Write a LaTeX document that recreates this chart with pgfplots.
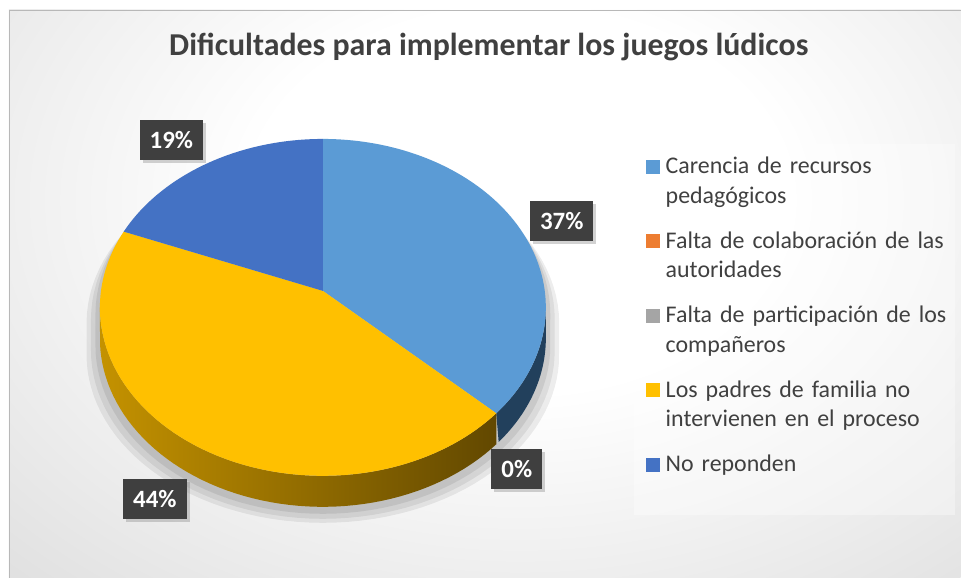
\documentclass[border=0pt]{standalone}
\usepackage{pgfplots}
\pgfplotsset{compat=1.18}
\usepackage{fontspec}
\setmainfont{Carlito}
\usetikzlibrary{shadows}

\definecolor{cBlue}{HTML}{5B9BD5}
\definecolor{cOrange}{HTML}{ED7D31}
\definecolor{cGray}{HTML}{A5A5A5}
\definecolor{cYellow}{HTML}{FFC000}
\definecolor{cDark}{HTML}{4472C4}
\definecolor{cBlueSide}{HTML}{22405C}
\definecolor{cYelL}{HTML}{C49200}
\definecolor{cYelM}{HTML}{6E5200}
\definecolor{cYelR}{HTML}{624800}
\definecolor{txt}{HTML}{404040}
\definecolor{lbl}{HTML}{3F3F3F}
\definecolor{bgmid}{HTML}{D6D6D6}
\definecolor{bgedge}{HTML}{C9C9C9}
\definecolor{bgcorner}{HTML}{C2C2C2}
\definecolor{bgin}{HTML}{FFFFFF}

\pgfdeclareradialshading{bgshade}{\pgfpoint{0bp}{0bp}}{color(0bp)=(bgin); color(12bp)=(bgin); color(40bp)=(bgmid); color(52bp)=(bgedge); color(75bp)=(bgcorner)}

\begin{document}
\begin{tikzpicture}
\fill[white] (0bp,0bp) rectangle (961bp,578bp);
\begin{scope}
\clip (9bp,0bp) rectangle (961bp,568bp);
\shade[shading=bgshade] (-40bp,-22bp) rectangle (1080bp,778bp);
\end{scope}
\draw[color=black!28, line width=0.8bp] (9.4bp,0bp) -- (9.4bp,567.6bp) -- (961bp,567.6bp);

\begin{axis}[
  at={(0bp,0bp)}, anchor=south west,
  x=1bp, y=1bp, xmin=0, xmax=961, ymin=0, ymax=578,
  scale only axis, hide axis, clip=false,
  declare function={
    px(\t)=323+222*sin(\t)/(1+0.098*cos(\t));
    py(\t)=287+166.9*cos(\t)/(1+0.098*cos(\t));
    tt(\s,\a,\b)=(\s<=1) ? (\a+(\b-\a)*\s) : (\b-(\b-\a)*(\s-1));
    dd(\s)=(\s<=1) ? 0 : -31;
    st(\s)=(\s<=1) ? (-95.6+191.2*\s) : (95.6+168.8*(\s-1));
  },
  title={Dificultades para implementar los juegos lúdicos},
  title style={at={(0.50884,0.89446)}, anchor=base, yshift=0pt,
    font=\fontsize{32}{38}\selectfont\bfseries, text=txt},
  legend style={at={(0.67222,0.72837)}, anchor=north west, draw=none, fill=none,
    inner sep=0pt, outer sep=0pt, row sep=0pt, column sep=6bp,
    font=\fontsize{24}{29.5}\selectfont, text=txt,
    cells={anchor=base west},
    nodes={inner sep=0pt, text height=17bp, text depth=57.5bp, text width=292bp, align=left}},
  legend image code/.code={\fill[#1, draw=none] (0bp,0bp) rectangle (14bp,14bp);},
]
% soft shadow under the pie
\addplot[fill=black, fill opacity=0.07, draw=none, domain=0:2, samples=121, forget plot]
  ({323+1.06*(px(st(x))-323)}, {py(st(x))+dd(x)-16});
\addplot[fill=black, fill opacity=0.07, draw=none, domain=0:2, samples=121, forget plot]
  ({323+1.04*(px(st(x))-323)}, {py(st(x))+dd(x)-12});
\addplot[fill=black, fill opacity=0.08, draw=none, domain=0:2, samples=121, forget plot]
  ({323+1.02*(px(st(x))-323)}, {py(st(x))+dd(x)-7});

% sides (37% slice: 0..133.2 deg, 44% slice: 133.2..291.6 deg)
\addplot[fill=cBlueSide, draw=none, domain=0:2, samples=81, forget plot]
  ({px(tt(x,95.6,133.2))}, {py(tt(x,95.6,133.2))+dd(x)});
\addplot[left color=cYelL, middle color=cYelM, right color=cYelR, draw=none, domain=0:2, samples=121, forget plot]
  ({px(tt(x,133.2,264.4))}, {py(tt(x,133.2,264.4))+dd(x)});

% top faces: 37%, 0%, 44%, 19%
\addplot[fill=cBlue, draw=none, domain={0}:{37*3.6}, samples=80, forget plot]
  ({px(x)}, {py(x)}) -- (axis cs:323,287) -- cycle;
\addplot[fill=cYellow, draw=none, domain={(37+0)*3.6}:{(37+0+44)*3.6}, samples=90, forget plot]
  ({px(x)}, {py(x)}) -- (axis cs:323,287) -- cycle;
\addplot[fill=cDark, draw=none, domain={(37+0+44)*3.6}:{(37+0+44+19)*3.6}, samples=50, forget plot]
  ({px(x)}, {py(x)}) -- (axis cs:323,287) -- cycle;

% data labels
\addplot[draw=none, mark=none, forget plot, nodes near coords, point meta=explicit symbolic,
  nodes near coords style={anchor=center, fill=lbl, text=white,
    font=\fontsize{25}{30}\selectfont\bfseries, inner xsep=10bp, inner ysep=0pt,
    minimum height=40bp, drop shadow={opacity=0.35, shadow xshift=3bp, shadow yshift=-3bp}}]
  coordinates {(562,356.5) [37\%] (517,109) [0\%] (155,78.5) [44\%] (171.5,438) [19\%]};

% legend background
\fill[white, opacity=0.35] (axis cs:634,63) rectangle (axis cs:955,434);

\addlegendimage{fill=cBlue}
\addlegendentry{Carencia de recursos\\pedagógicos}
\addlegendimage{fill=cOrange}
\addlegendentry{Falta de colaboración de las\\autoridades}
\addlegendimage{fill=cGray}
\addlegendentry{Falta de participación de los\\compañeros}
\addlegendimage{fill=cYellow}
\addlegendentry{Los padres de familia no\\intervienen en el proceso}
\addlegendimage{fill=cDark}
\addlegendentry{No reponden}
\end{axis}
\end{tikzpicture}
\end{document}
